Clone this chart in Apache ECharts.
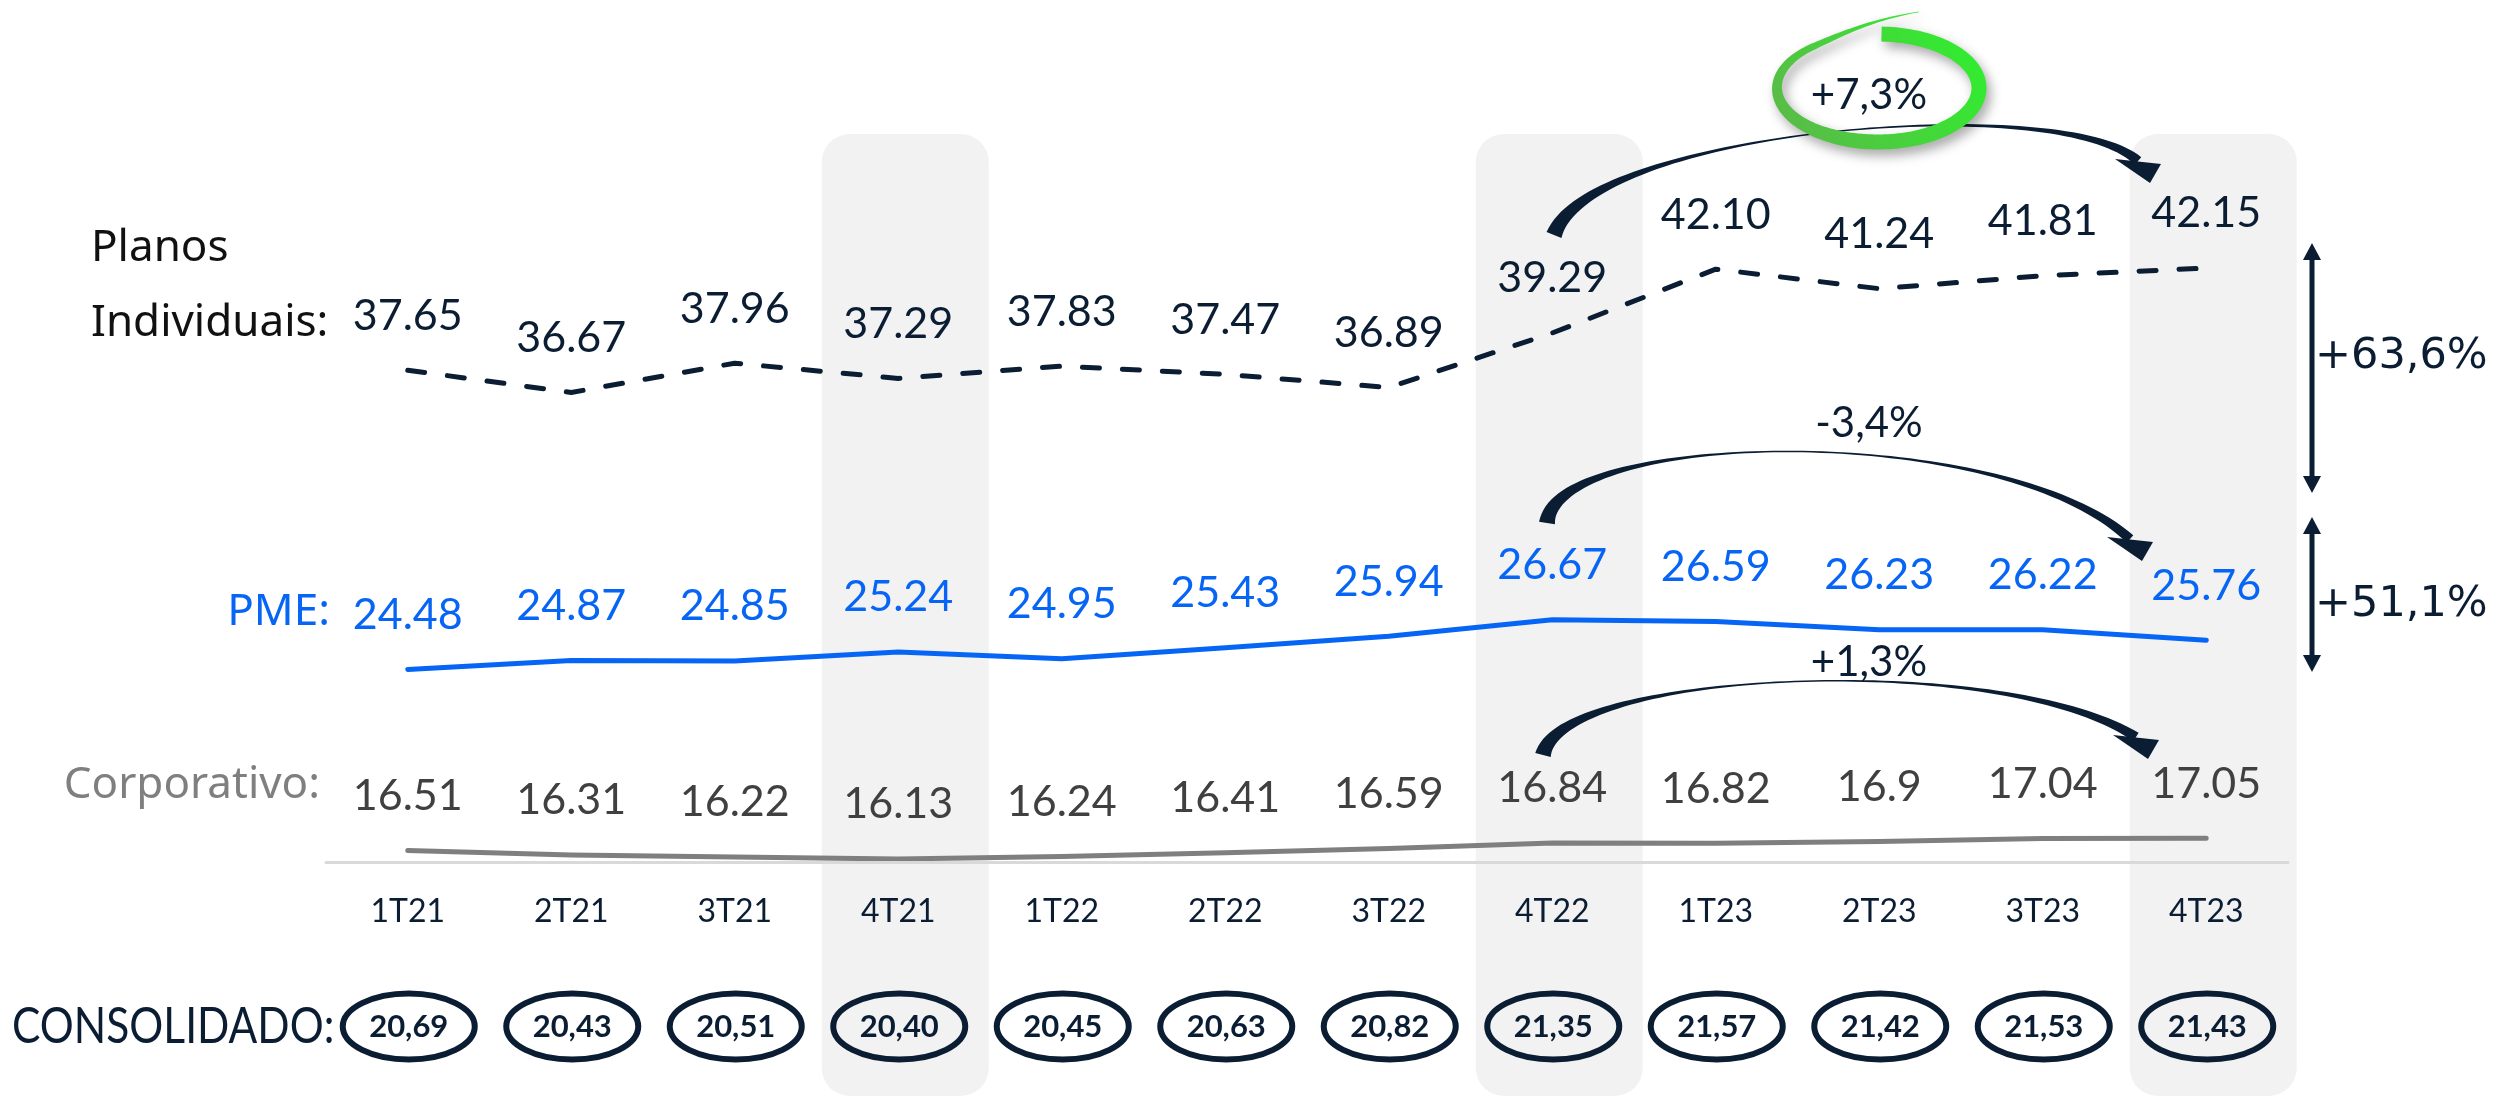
<!DOCTYPE html>
<html><head><meta charset="utf-8">
<script src="https://cdn.jsdelivr.net/npm/echarts@6/dist/echarts.min.js"></script>
<style>html,body{margin:0;padding:0;background:#fff}#c{width:2494px;height:1096px}</style>
</head><body><div id="c"></div>
<script>
// ---- data ----
const categories = ['1T21','2T21','3T21','4T21','1T22','2T22','3T22','4T22','1T23','2T23','3T23','4T23'];
const planosIndividuais = ['37.65','36.67','37.96','37.29','37.83','37.47','36.89','39.29','42.10','41.24','41.81','42.15'];
const pme = ['24.48','24.87','24.85','25.24','24.95','25.43','25.94','26.67','26.59','26.23','26.22','25.76'];
const corporativo = ['16.51','16.31','16.22','16.13','16.24','16.41','16.59','16.84','16.82','16.9','17.04','17.05'];
const consolidado = [20.69,20.43,20.51,20.40,20.45,20.63,20.82,21.35,21.57,21.42,21.53,21.43];
const highlightedQuarters = ['4T21','4T22','4T23'];
const growthLabels = ['+7,3%','-3,4%','+1,3%'];
const spreadLabels = ['+63,6%','+51,1%'];

const NAVY = '#0b1d33', BLUE = '#0765f6', GREY = '#7f7f7f';
const chart = echarts.init(document.getElementById('c'), null, {renderer:'canvas'});

function lineSeries(name, arr, color, labelColor, dashed) {
  return {
    name, type:'line', data: arr.map(Number), z:3, animation:false,
    symbol:'circle', symbolSize:2, itemStyle:{color:'rgba(0,0,0,0)'},
    lineStyle:{color, width:5, type: dashed ? [17,23] : 'solid', cap:'round', join:'round'},
    label:{show:true, position:'top', distance:32, color:labelColor, fontFamily:'Lato', fontSize:43,
      formatter: p => arr[p.dataIndex]},
    emphasis:{disabled:true}
  };
}

const option = {
  animation:false,
  backgroundColor:'#ffffff',
  grid:{left:326, right:206, top:226, bottom:234},
  xAxis:{type:'category', data:categories, boundaryGap:true, z:5,
    axisLine:{lineStyle:{color:'#d9d9d9', width:3}}, axisTick:{show:false},
    axisLabel:{fontFamily:'Lato', fontSize:32, color:NAVY, margin:34}},
  yAxis:{type:'value', min:16, max:44, show:false},
  series:[
    {type:'custom', z:1, silent:true, clip:false,
      data: highlightedQuarters.map(q => [categories.indexOf(q), 16]),
      renderItem:(params, api) => {
        const x = api.coord([api.value(0), 16])[0];
        return {type:'rect', shape:{x:x+7-83.5, y:134, width:167, height:962, r:28}, style:{fill:'#f2f2f2'}};
      }},
    lineSeries('Planos Individuais', planosIndividuais, NAVY, NAVY, true),
    lineSeries('PME', pme, BLUE, BLUE, false),
    lineSeries('Corporativo', corporativo, GREY, '#404040', false),
    {type:'custom', z:4, silent:true, clip:false,
      data: consolidado.map((v,i) => [i, v]),
      renderItem:(params, api) => {
        const i = api.value(0);
        const x = api.coord([i, 16])[0];
        return {type:'group', children:[
          {type:'ellipse', shape:{cx:x+1, cy:1026.5, rx:66, ry:33}, style:{fill:'none', stroke:NAVY, lineWidth:6}},
          {type:'text', x:x+1, y:1027, style:{text: consolidado[i].toFixed(2).replace('.', ','), fill:NAVY,
            fontFamily:'Lato', fontWeight:'bold', fontSize:31, align:'center', verticalAlign:'middle'}}
        ]};
      }}
  ]
};
chart.setOption(option);

// ---- annotations ----
function bez(P, t) {
  const u = 1 - t;
  return [u*u*u*P[0][0] + 3*u*u*t*P[1][0] + 3*u*t*t*P[2][0] + t*t*t*P[3][0],
          u*u*u*P[0][1] + 3*u*u*t*P[1][1] + 3*u*t*t*P[2][1] + t*t*t*P[3][1]];
}
function taper(pts, ws) {
  const L = [], R = [];
  for (let i = 0; i < pts.length; i++) {
    const p = pts[i], a = pts[Math.max(0, i-1)], b = pts[Math.min(pts.length-1, i+1)];
    let dx = b[0]-a[0], dy = b[1]-a[1]; const len = Math.hypot(dx, dy) || 1; dx /= len; dy /= len;
    const nx = -dy, ny = dx, h = ws[i]/2;
    L.push([p[0]+nx*h, p[1]+ny*h]); R.push([p[0]-nx*h, p[1]-ny*h]);
  }
  return L.concat(R.reverse());
}
function curvedArrow(P, w0, wm, w1) {
  const pts = [], ws = [];
  for (let i = 0; i <= 80; i++) {
    const t = i/80; pts.push(bez(P, t));
    ws.push(t < 0.5 ? wm + (w0-wm)*Math.pow(1-2*t, 2) : wm + (w1-wm)*Math.pow(2*t-1, 2));
  }
  const e = P[3];
  return [
    {type:'polygon', z:8, silent:true, shape:{points:taper(pts, ws)}, style:{fill:NAVY}},
    {type:'polygon', z:8, silent:true, shape:{points:[[e[0]-23, e[1]-2], [e[0]+12, e[1]+22], [e[0]+23, e[1]+3]]}, style:{fill:NAVY}}
  ];
}
function swoosh() {
  const pts = [], ws = [], cx = 1878, cy = 88, rx = 101, ry = 54;
  for (let a = -88; a <= 287; a += 2) {
    const s = a > 230 ? 1 + 0.45*Math.pow((a-230)/55, 2) : 1;
    const r = a*Math.PI/180;
    pts.push([cx + rx*s*Math.cos(r), cy + ry*s*Math.sin(r)]);
    ws.push(a < 100 ? 15 : a < 240 ? 15 - 9*(a-100)/140 : 6 - 5.5*(a-240)/47);
  }
  return {type:'polygon', z:9, silent:true, shape:{points:taper(pts, ws)},
    style:{fill:new echarts.graphic.LinearGradient(1, 0, 0, 1, [{offset:0, color:'#2cf42c'}, {offset:1, color:'#5db64a'}]),
      shadowColor:'rgba(0,0,0,0.35)', shadowBlur:12, shadowOffsetX:4, shadowOffsetY:6}};
}
function txt(text, x, y, font, fill, align, extra) {
  return Object.assign({type:'text', z:10, silent:true, x, y,
    style:{text, font, fill, align:align || 'left', verticalAlign:'middle'}}, extra || {});
}
function vArrow(x, y1, y2) {
  return [
    {type:'line', z:8, silent:true, shape:{x1:x, y1:y1+14, x2:x, y2:y2-14}, style:{stroke:NAVY, lineWidth:5}},
    {type:'polygon', z:8, silent:true, shape:{points:[[x, y1], [x-9, y1+17], [x+9, y1+17]]}, style:{fill:NAVY}},
    {type:'polygon', z:8, silent:true, shape:{points:[[x, y2], [x-9, y2-17], [x+9, y2-17]]}, style:{fill:NAVY}}
  ];
}

const NOTO = '44px "Noto Sans"';
const graphics = [
  txt('Planos', 91, 248, NOTO, '#111111'),
  txt('Individuais:', 91, 323, NOTO, '#111111'),
  txt('PME:', 330, 612, NOTO, BLUE, 'right'),
  txt('Corporativo:', 320, 785, NOTO, GREY, 'right'),
  txt('CONSOLIDADO:', 12, 1027, '50px Lato', NAVY, 'left', {scaleX:0.85}),
  ...curvedArrow([[1554,235],[1590,130],[2060,90],[2138,161]], 16, 1.5, 10),
  ...curvedArrow([[1547,523],[1555,430],[2000,420],[2130,539]], 16, 1.5, 10),
  ...curvedArrow([[1543,755],[1560,670],[2000,650],[2136,737]], 16, 1.5, 10),
  swoosh(),
  txt(growthLabels[0], 1869, 95, '42px Lato', NAVY, 'center'),
  txt(growthLabels[1], 1869, 423, '42px Lato', NAVY, 'center'),
  txt(growthLabels[2], 1869, 662, '42px Lato', NAVY, 'center'),
  ...vArrow(2312, 243, 493),
  ...vArrow(2312, 517, 672),
  txt(spreadLabels[0], 2315, 357, '43px "DejaVu Sans"', NAVY),
  txt(spreadLabels[1], 2315, 605, '43px "DejaVu Sans"', NAVY)
];
chart.setOption({graphic: graphics});
</script>
</body></html>
